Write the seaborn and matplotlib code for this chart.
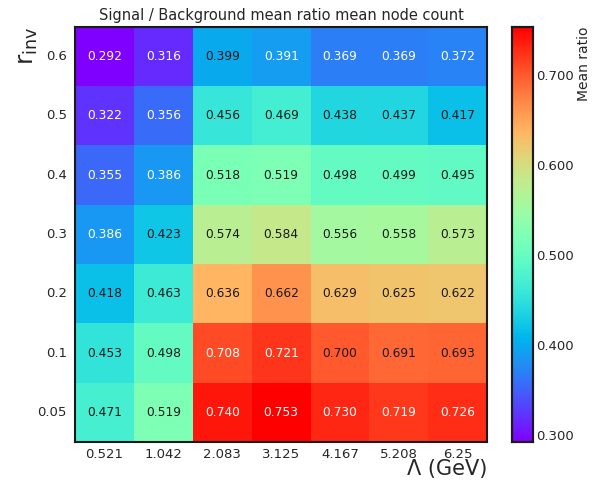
import numpy as np
import pandas as pd
import matplotlib
matplotlib.use("Agg")
import matplotlib.pyplot as plt
from matplotlib.ticker import MultipleLocator, FormatStrFormatter
import seaborn as sns

# Dark-sector scan: Lambda (GeV) on x, r_inv on y
lambda_labels = ["0.521", "1.042", "2.083", "3.125", "4.167", "5.208", "6.25"]
rinv_labels = ["0.6", "0.5", "0.4", "0.3", "0.2", "0.1", "0.05"]

row_06 = [0.292, 0.316, 0.399, 0.391, 0.369, 0.369, 0.372]
row_05 = [0.322, 0.356, 0.456, 0.469, 0.438, 0.437, 0.417]
row_04 = [0.355, 0.386, 0.518, 0.519, 0.498, 0.499, 0.495]
row_03 = [0.386, 0.423, 0.574, 0.584, 0.556, 0.558, 0.573]
row_02 = [0.418, 0.463, 0.636, 0.662, 0.629, 0.625, 0.622]
row_01 = [0.453, 0.498, 0.708, 0.721, 0.700, 0.691, 0.693]
row_005 = [0.471, 0.519, 0.740, 0.753, 0.730, 0.719, 0.726]

ratios = pd.DataFrame(
    [row_06, row_05, row_04, row_03, row_02, row_01, row_005],
    index=rinv_labels, columns=lambda_labels,
)

sns.set_style("white")
plt.rcParams["font.family"] = ["DejaVu Sans"]

fig = plt.figure(figsize=(5.92, 4.88), dpi=100)
ax = fig.add_axes([0.127, 0.094, 0.696, 0.851])
cax = fig.add_axes([0.865, 0.094, 0.036, 0.851])

sns.heatmap(
    ratios, ax=ax, cbar_ax=cax, cmap="rainbow",
    annot=True, fmt=".3f", annot_kws={"fontsize": 8.8},
)

# Light text on the deep ends of the colour scale, dark text in the middle
vmin, vmax = ratios.values.min(), ratios.values.max()
for txt in ax.texts:
    frac = (float(txt.get_text()) - vmin) / (vmax - vmin)
    txt.set_color("white" if (frac < 0.222 or frac > 0.893) else "#1a1a1a")

for s in ax.spines.values():
    s.set_visible(True)
    s.set_linewidth(1.5)
    s.set_color("#1a1a1a")

ax.tick_params(axis="both", direction="in", length=4, width=0.8,
               labelsize=9.5, color="#1a1a1a", bottom=True, left=True)
ax.tick_params(axis="x", pad=4)
ax.tick_params(axis="y", pad=6)
plt.setp(ax.get_yticklabels(), rotation=0)
plt.setp(ax.get_xticklabels(), rotation=0)

ax.set_title("Signal / Background mean ratio mean node count", fontsize=10.5, pad=5)
ax.set_xlabel("Λ (GeV)", fontsize=15, loc="right", labelpad=-1)
ax.set_ylabel(r"$\mathregular{r_{inv}}$", fontsize=18, loc="top", labelpad=-2)

# Colorbar styling
for s in cax.spines.values():
    s.set_visible(True)
    s.set_linewidth(1.5)
    s.set_color("#1a1a1a")
cax.yaxis.set_major_locator(MultipleLocator(0.1))
cax.yaxis.set_minor_locator(MultipleLocator(0.02))
cax.yaxis.set_major_formatter(FormatStrFormatter("%.3f"))
cax.tick_params(which="major", direction="in", length=5, width=0.8,
                labelsize=9.5, right=True, pad=2)
cax.tick_params(which="minor", direction="in", length=3, width=0.6, right=True)
cax.set_ylabel("Mean ratio", fontsize=10, loc="top", labelpad=2)

fig.savefig("out.png", dpi=100)
